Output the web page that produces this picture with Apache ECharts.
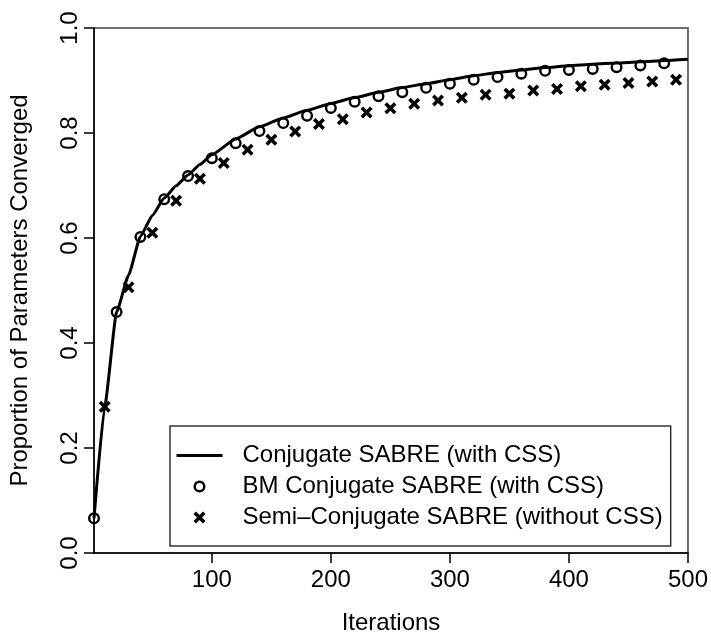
<!DOCTYPE html>
<html>
<head>
<meta charset="utf-8">
<script src="https://cdn.jsdelivr.net/npm/echarts@6/dist/echarts.min.js"></script>
<style>html,body{margin:0;padding:0;background:#fff;}#c{width:711px;height:640px;}</style>
</head>
<body>
<div id="c"></div>
<script>
var lineX = [1,10,20,30,40,50,60,70,80,90,100,120,140,160,180,200,220,240,260,280,300,320,340,360,380,400,420,440,460,480,500];
var lineY = [0.066,0.279,0.459,0.529,0.603,0.643,0.676,0.6995,0.72,0.740,0.7585,0.7886,0.8118,0.8288,0.8432,0.8564,0.8675,0.8775,0.8865,0.894,0.9016,0.909,0.9153,0.920,0.9247,0.928,0.931,0.9333,0.9357,0.938,0.9405];
var bmX = [1,20,40,60,80,100,120,140,160,180,200,220,240,260,280,300,320,340,360,380,400,420,440,460,480];
var bmY = [0.066,0.459,0.602,0.674,0.718,0.752,0.7805,0.8037,0.819,0.833,0.8476,0.8596,0.870,0.8777,0.886,0.894,0.9016,0.9066,0.9129,0.9185,0.920,0.922,0.9254,0.9286,0.933];
var semiX = [10,30,50,70,90,110,130,150,170,190,210,230,250,270,290,310,330,350,370,390,410,430,450,470,490];
var semiY = [0.2786,0.506,0.610,0.671,0.713,0.743,0.768,0.787,0.803,0.817,0.826,0.839,0.847,0.8558,0.862,0.867,0.873,0.875,0.881,0.884,0.889,0.892,0.8954,0.898,0.9016];
var xTicks = [100,200,300,400,500];
var seriesNames = ['Conjugate SABRE (with CSS)','BM Conjugate SABRE (with CSS)','Semi\u2013Conjugate SABRE (without CSS)'];
var xTitle = 'Iterations';
var yTitle = 'Proportion of Parameters Converged';

function pairs(xs, ys){ return xs.map(function(x,i){ return [x, ys[i]]; }); }

var ringPath = 'path://M0,5A5,5 0 1,0 10,5A5,5 0 1,0 0,5Z M2,5A3,3 0 1,1 8,5A3,3 0 1,1 2,5Z';
var d = 2.1;
var crossPath = 'path://M'+d+',0L5,'+(5-d)+'L'+(10-d)+',0L10,'+d+'L'+(5+d)+',5L10,'+(10-d)+'L'+(10-d)+',10L5,'+(5+d)+'L'+d+',10L0,'+(10-d)+'L'+(5-d)+',5L0,'+d+'Z';
var linePath = 'path://M0,0H46V3H0Z';
var FONT = 'Liberation Sans';
var FS = 24;

var chart = echarts.init(document.getElementById('c'), null, {renderer:'canvas'});
chart.setOption({
  animation: false,
  backgroundColor: '#fff',
  color: ['#000','#000','#000'],
  textStyle: {fontFamily: FONT, color: '#000'},
  grid: {left: 94, top: 28, right: 22, bottom: 81, show: true, borderColor: '#6e6e6e', borderWidth: 2, backgroundColor: 'transparent'},
  xAxis: {
    type: 'value', min: 1, max: 500,
    name: xTitle, nameLocation: 'middle', nameGap: 58,
    nameTextStyle: {fontFamily: FONT, fontSize: FS, color: '#000'},
    axisLine: {show: true, onZero: false, lineStyle: {color: '#000', width: 1.5}},
    axisTick: {show: true, length: 10, lineStyle: {color: '#000', width: 1.5}, customValues: xTicks},
    axisLabel: {fontFamily: FONT, fontSize: FS, color: '#000', margin: 15, customValues: xTicks},
    splitLine: {show: false}
  },
  yAxis: {
    type: 'value', min: 0, max: 1, interval: 0.2,
    name: yTitle, nameLocation: 'middle', nameGap: 62, nameRotate: 90,
    nameTextStyle: {fontFamily: FONT, fontSize: FS, color: '#000'},
    axisLine: {show: true, onZero: false, lineStyle: {color: '#000', width: 1.5}},
    axisTick: {show: true, length: 10, lineStyle: {color: '#000', width: 1.5}},
    axisLabel: {fontFamily: FONT, fontSize: FS, color: '#000', margin: 12, rotate: 90,
      formatter: function(v){ return v.toFixed(1); }},
    splitLine: {show: false}
  },
  legend: {
    left: 170, top: 426, orient: 'vertical',
    padding: [16, 8, 15, 6.5],
    itemWidth: 46, itemHeight: 12, itemGap: 4,
    symbolKeepAspect: true,
    borderColor: '#333', borderWidth: 1.5, backgroundColor: '#fff',
    textStyle: {fontFamily: FONT, fontSize: FS, color: '#000', lineHeight: 27, padding: [0,0,0,15]},
    itemStyle: {borderWidth: 0},
    data: [
      {name: seriesNames[0], icon: linePath},
      {name: seriesNames[1], icon: ringPath},
      {name: seriesNames[2], icon: crossPath}
    ]
  },
  series: [
    {name: seriesNames[0], type: 'line', data: pairs(lineX, lineY), symbol: 'none', smooth: 0.15, smoothMonotone: 'x',
     lineStyle: {color: '#000', width: 3}, itemStyle: {color: '#000'}, z: 2},
    {name: seriesNames[1], type: 'scatter', data: pairs(bmX, bmY), symbol: ringPath, symbolSize: 12, symbolKeepAspect: true,
     itemStyle: {color: '#000', opacity: 1}, z: 3},
    {name: seriesNames[2], type: 'scatter', data: pairs(semiX, semiY), symbol: crossPath, symbolSize: 12, symbolKeepAspect: true,
     itemStyle: {color: '#000', opacity: 1}, z: 3}
  ]
});
</script>
</body>
</html>
